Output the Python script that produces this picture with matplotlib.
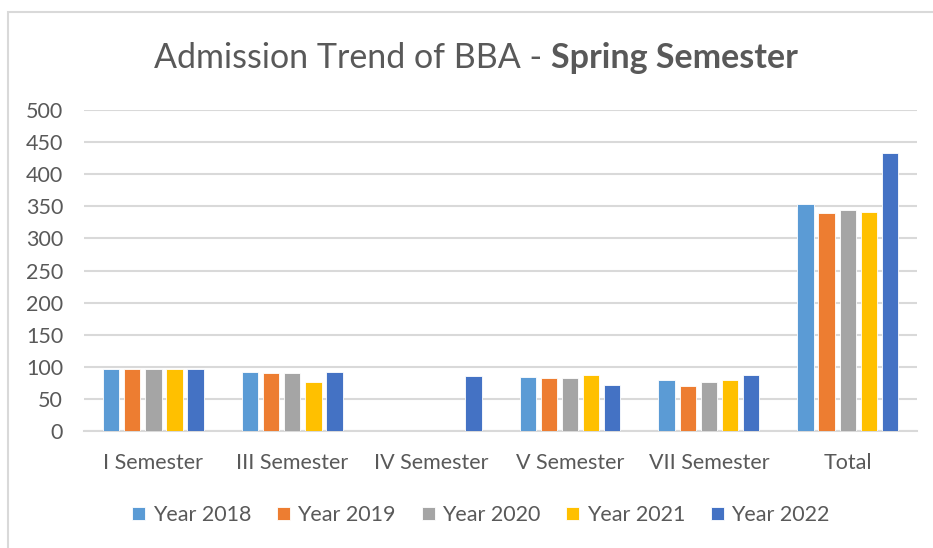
import numpy as np
import matplotlib.pyplot as plt
from matplotlib.patches import Rectangle

categories = ["I Semester", "III Semester", "IV Semester", "V Semester", "VII Semester", "Total"]
series = ["Year 2018", "Year 2019", "Year 2020", "Year 2021", "Year 2022"]
y2018 = [96, 92, 0, 84, 80, 354]
y2019 = [96, 90, 0, 82, 70, 340]
y2020 = [96, 90, 0, 82, 76, 345]
y2021 = [96, 76, 0, 88, 80, 342]
y2022 = [96, 92, 86, 72, 88, 434]
yticks = [0, 50, 100, 150, 200, 250, 300, 350, 400, 450, 500]

colors = ["#5B9BD5", "#ED7D31", "#A5A5A5", "#FFC000", "#4472C4"]
text_col = "#595959"

plt.rcParams['font.family'] = ['Lato', 'DejaVu Sans']

fig = plt.figure(figsize=(9.33, 5.48), dpi=100)
ax = fig.add_axes([0.090, 0.2135, 0.893, 0.5855])

# chart border (only left/top visible in the reference)
fig.patches.append(Rectangle((8 / 933, -0.1), 1.2, 1 - 12 / 548 + 0.1,
                             transform=fig.transFigure, fill=False,
                             edgecolor="#D9D9D9", linewidth=1.5))

x = np.arange(len(categories))
width = 0.118
step = 0.152
for i, (vals, name) in enumerate(zip([y2018, y2019, y2020, y2021, y2022], series)):
    ax.bar(x + (i - 2) * step, vals, width, color=colors[i], label=name,
           edgecolor="white", linewidth=0.6, zorder=3)

ax.set_xlim(-0.5, len(categories) - 0.5)
ax.set_ylim(0, 500)
ax.set_yticks(yticks)
ax.set_xticks(x)
ax.set_xticklabels(categories)
ax.grid(axis="y", color="#D9D9D9", linewidth=1.5, zorder=0)
for s in ["left", "right", "top"]:
    ax.spines[s].set_visible(False)
ax.spines["bottom"].set_color("#D9D9D9")
ax.spines["bottom"].set_linewidth(1.5)
ax.tick_params(axis="both", length=0, colors=text_col, labelsize=15.5)
ax.tick_params(axis="x", pad=16)
ax.tick_params(axis="y", pad=15)

# title: normal part + bold part
renderer = fig.canvas.get_renderer()
t1 = fig.text(0, 0, "Admission Trend of BBA - ", fontsize=24.5, color=text_col,
              va="center")
t2 = fig.text(0, 0, "Spring Semester", fontsize=24.5, color=text_col,
              fontweight="bold", va="center")
w1 = t1.get_window_extent(renderer).width
w2 = t2.get_window_extent(renderer).width
cx = 476
ty = 1 - 58 / 548
t1.set_position(((cx - (w1 + w2) / 2) / 933, ty))
t2.set_position(((cx - (w1 + w2) / 2 + w1) / 933, ty))

fig.legend(loc="center", bbox_to_anchor=(481 / 933, 1 - 515 / 548), ncol=5,
           frameon=False, fontsize=15.5, labelcolor=text_col,
           handlelength=0.6, handleheight=0.6, handletextpad=0.35,
           columnspacing=1.2)

fig.savefig("out.png", dpi=100)
